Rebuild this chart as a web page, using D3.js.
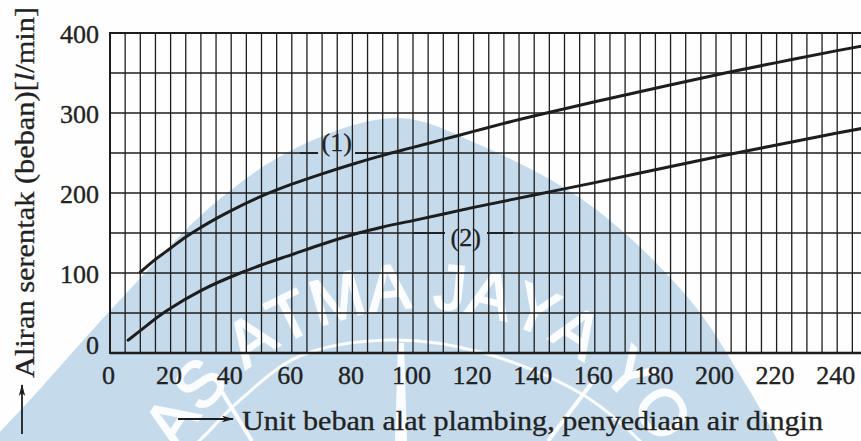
<!DOCTYPE html>
<html>
<head>
<meta charset="utf-8">
<script src="https://cdn.jsdelivr.net/npm/d3@7"></script>
<style>
  html, body { margin: 0; padding: 0; background: #ffffff; }
  svg { display: block; }
</style>
</head>
<body>
<svg id="chart" width="861" height="441"></svg>
<script>
// Simultaneous flow (l/min) against plumbing fixture load units, cold water supply
const xTicks = [0, 20, 40, 60, 80, 100, 120, 140, 160, 180, 200, 220, 240];
const yTicks = [0, 100, 200, 300, 400];

// Curve (1)
const curve1Units = [10, 15, 20, 25, 30, 35, 40, 50, 60, 70, 80, 90, 100, 110, 120, 130, 143, 160, 180, 203, 220, 240, 250];
const curve1Flow  = [101, 117, 131, 145, 157, 168, 178, 196, 211, 224, 236, 247, 257, 267, 277, 287, 299, 314, 331, 350, 363, 378, 385];

// Curve (2)
const curve2Units = [6, 10, 17.6, 20, 30, 43, 50, 60, 70, 82, 90, 100, 120, 140, 160, 180, 200, 220, 240, 250];
const curve2Flow  = [16, 28, 50, 56, 78, 100, 110, 123, 136, 150, 157.5, 165.5, 182, 197.5, 213, 229, 245, 260, 275, 282];

const seriesLabels = ["(1)", "(2)"];

const xTitle = "Unit beban alat plambing, penyediaan air dingin";
const yTitleMain = "Aliran serentak (beban)[";
const yTitleUnit = "l";
const yTitleEnd = "/min]";
const sealText = "UNIVERSITAS ATMA JAYA YOGYAKARTA";

const W = 861, H = 441;
const svg = d3.select("#chart");
const ink = "#1d1d1d";
const serif = "'Liberation Serif', 'Times New Roman', serif";

const x = d3.scaleLinear().domain([0, 250]).range([110, 867.5]);
const y = d3.scaleLinear().domain([0, 400]).range([353, 33]);

svg.append("rect").attr("width", W).attr("height", H).attr("fill", "#fefefe");

// ---- university seal printed faintly behind the figure ----
const defs = svg.append("defs");
const seal = svg.append("g").attr("class", "seal");
const domePts = [[-40, 480], [0, 432], [30, 400], [120, 300], [215, 203], [300, 146], [398, 118],
                 [480, 145], [590, 205], [690, 300], [740, 375], [778, 441], [795, 480]];
seal.append("path")
  .attr("d", d3.line().curve(d3.curveCatmullRom)(domePts) + "Z")
  .attr("fill", "#c5dbec");

// lettering set along a circle, one glyph at a time
const sealFont = { family: "'Liberation Sans', Arial, sans-serif", size: 64, spacing: 1 };
const sc = { x: 420, y: 582, r: 274 };
const probe = seal.append("text")
  .attr("font-family", sealFont.family).attr("font-size", sealFont.size)
  .attr("visibility", "hidden");
const glyphs = Array.from(sealText).map(ch => {
  probe.text(ch === " " ? "\u00a0" : ch);
  return { ch, w: probe.node().getComputedTextLength() + sealFont.spacing };
});
probe.remove();
const total = d3.sum(glyphs, g => g.w);
let run = -total / 2;
glyphs.forEach(g => {
  g.s = run + g.w / 2;
  run += g.w;
  g.theta = g.s / sc.r;
  g.px = sc.x + sc.r * Math.sin(g.theta);
  g.py = sc.y - sc.r * Math.cos(g.theta);
});
seal.append("g").selectAll("text")
  .data(glyphs.filter(g => g.ch !== " " && g.py < H + 25 && g.px > -25 && g.px < W + 25))
  .join("text")
  .attr("transform", g => `translate(${g.px},${g.py}) rotate(${g.theta * 180 / Math.PI})`)
  .attr("text-anchor", "middle")
  .attr("font-family", sealFont.family)
  .attr("font-size", sealFont.size)
  .attr("fill", "#ffffff")
  .attr("stroke", "#ffffff")
  .attr("stroke-width", 2)
  .attr("opacity", 0.93)
  .text(g => g.ch);

const innerArc = [[170, 465], [200, 440], [240, 400], [300, 356], [390, 340], [480, 352], [580, 393], [640, 441], [660, 465]];
seal.append("path")
  .attr("d", d3.line().curve(d3.curveCatmullRom)(innerArc))
  .attr("fill", "none").attr("stroke", "#ffffff").attr("stroke-width", 3).attr("stroke-opacity", 0.9);
seal.append("path").attr("d", "M222,392 L252,441").attr("stroke", "#fff").attr("stroke-width", 4).attr("stroke-opacity", 0.9);
seal.append("path").attr("d", "M398,343 L404,343 L407,441 L395,441 Z").attr("fill", "#fff").attr("fill-opacity", 0.9);
seal.append("path").attr("d", "M548,441 L594,380").attr("stroke", "#fff").attr("stroke-width", 4).attr("stroke-opacity", 0.9);

// ---- gaps in the grid where the curve numbers sit ----
const label1 = { u: 74.8, v: 250, dy: -9, gap: [318, 355], lead: [300, 377] };
const label2 = { u: 117.4, v: 150, dy: 6, gap: [445, 487], lead: [413, 513] };
const labels = [label1, label2];

const mask = defs.append("mask").attr("id", "labelGaps").attr("maskUnits", "userSpaceOnUse")
  .attr("x", 0).attr("y", 0).attr("width", W).attr("height", H);
mask.append("rect").attr("width", W).attr("height", H).attr("fill", "#fff");
labels.forEach(l => {
  mask.append("rect")
    .attr("x", l.gap[0]).attr("width", l.gap[1] - l.gap[0])
    .attr("y", y(l.v) - 6).attr("height", 12)
    .attr("fill", "#000");
});

// ---- grid ----
const grid = svg.append("g").attr("class", "grid");
grid.append("g").selectAll("line")
  .data(d3.range(5, 251, 5))
  .join("line")
  .attr("x1", d => x(d)).attr("x2", d => x(d))
  .attr("y1", y(400)).attr("y2", y(0))
  .attr("stroke", ink).attr("stroke-width", 1.3);

grid.append("g").attr("mask", "url(#labelGaps)").selectAll("line")
  .data(d3.range(50, 400, 50))
  .join("line")
  .attr("x1", x(0)).attr("x2", W)
  .attr("y1", d => y(d)).attr("y2", d => y(d))
  .attr("stroke", ink).attr("stroke-width", 1.7);

// frame
grid.append("line").attr("x1", x(0)).attr("x2", W).attr("y1", y(400)).attr("y2", y(400))
  .attr("stroke", ink).attr("stroke-width", 2);
grid.append("line").attr("x1", x(0)).attr("x2", W).attr("y1", y(0)).attr("y2", y(0))
  .attr("stroke", ink).attr("stroke-width", 2.3);
grid.append("line").attr("x1", x(0)).attr("x2", x(0)).attr("y1", y(400) - 1).attr("y2", y(0) + 1)
  .attr("stroke", ink).attr("stroke-width", 2);

// ---- axes ----
const xAxis = svg.append("g")
  .attr("transform", `translate(0,${y(0)})`)
  .call(d3.axisBottom(x).tickValues(xTicks).tickSize(0).tickPadding(13));
xAxis.select(".domain").remove();
xAxis.attr("font-family", serif).attr("font-size", 26);
xAxis.selectAll("text")
  .attr("fill", "#222").attr("stroke", "#222").attr("stroke-width", 0.35)
  .attr("dx", -2);

const yAxis = svg.append("g")
  .attr("transform", `translate(${x(0)},0)`)
  .call(d3.axisLeft(y).tickValues(yTicks).tickSize(0).tickPadding(11));
yAxis.select(".domain").remove();
yAxis.attr("font-family", serif).attr("font-size", 26);
yAxis.selectAll("text")
  .attr("fill", "#222").attr("stroke", "#222").attr("stroke-width", 0.35)
  .attr("dy", d => d === 0 ? "0.02em" : "0.38em");

// ---- curves ----
const line = d3.line().curve(d3.curveMonotoneX).x(d => x(d[0])).y(d => y(d[1]));
const series = [
  d3.zip(curve1Units, curve1Flow),
  d3.zip(curve2Units, curve2Flow)
];
svg.append("g").selectAll("path")
  .data(series)
  .join("path")
  .attr("d", line)
  .attr("fill", "none")
  .attr("stroke", ink)
  .attr("stroke-width", 3)
  .attr("stroke-linecap", "round");

// curve numbers with their short leaders
const lab = svg.append("g");
labels.forEach((l, i) => {
  lab.append("line").attr("x1", l.lead[0]).attr("x2", l.gap[0])
    .attr("y1", y(l.v)).attr("y2", y(l.v)).attr("stroke", ink).attr("stroke-width", 1.8);
  lab.append("line").attr("x1", l.gap[1]).attr("x2", l.lead[1])
    .attr("y1", y(l.v)).attr("y2", y(l.v)).attr("stroke", ink).attr("stroke-width", 1.8);
  lab.append("text")
    .attr("x", x(l.u)).attr("y", y(l.v) + l.dy)
    .attr("dy", "0.25em")
    .attr("text-anchor", "middle")
    .attr("font-family", serif).attr("font-size", 26)
    .attr("fill", "#222").attr("stroke", "#222").attr("stroke-width", 0.3)
    .text(seriesLabels[i]);
});

// ---- axis titles with arrows ----
defs.append("marker").attr("id", "arrowHead")
  .attr("viewBox", "0 0 12 8").attr("refX", 11).attr("refY", 4)
  .attr("markerWidth", 12).attr("markerHeight", 8).attr("markerUnits", "userSpaceOnUse")
  .attr("orient", "auto")
  .append("path").attr("d", "M0,0.8 L12,4 L0,7.2 L3,4 Z").attr("fill", ink);

svg.append("line").attr("x1", 178).attr("x2", 233).attr("y1", 419).attr("y2", 419)
  .attr("stroke", ink).attr("stroke-width", 1.8).attr("marker-end", "url(#arrowHead)");
svg.append("text")
  .attr("x", 242).attr("y", 430)
  .attr("font-family", serif).attr("font-size", 27)
  .attr("fill", "#222").attr("stroke", "#222").attr("stroke-width", 0.3)
  .attr("textLength", 581).attr("lengthAdjust", "spacingAndGlyphs")
  .text(xTitle);

svg.append("line").attr("x1", 22).attr("x2", 22).attr("y1", 434).attr("y2", 385)
  .attr("stroke", ink).attr("stroke-width", 1.8).attr("marker-end", "url(#arrowHead)");
const yt = svg.append("text")
  .attr("transform", "translate(33.5,378) rotate(-90)")
  .attr("font-family", serif).attr("font-size", 27)
  .attr("fill", "#222").attr("stroke", "#222").attr("stroke-width", 0.3)
  .attr("textLength", 371).attr("lengthAdjust", "spacingAndGlyphs");
yt.append("tspan").text(yTitleMain);
yt.append("tspan").attr("font-style", "italic").text(yTitleUnit);
yt.append("tspan").text(yTitleEnd);
</script>
</body>
</html>
